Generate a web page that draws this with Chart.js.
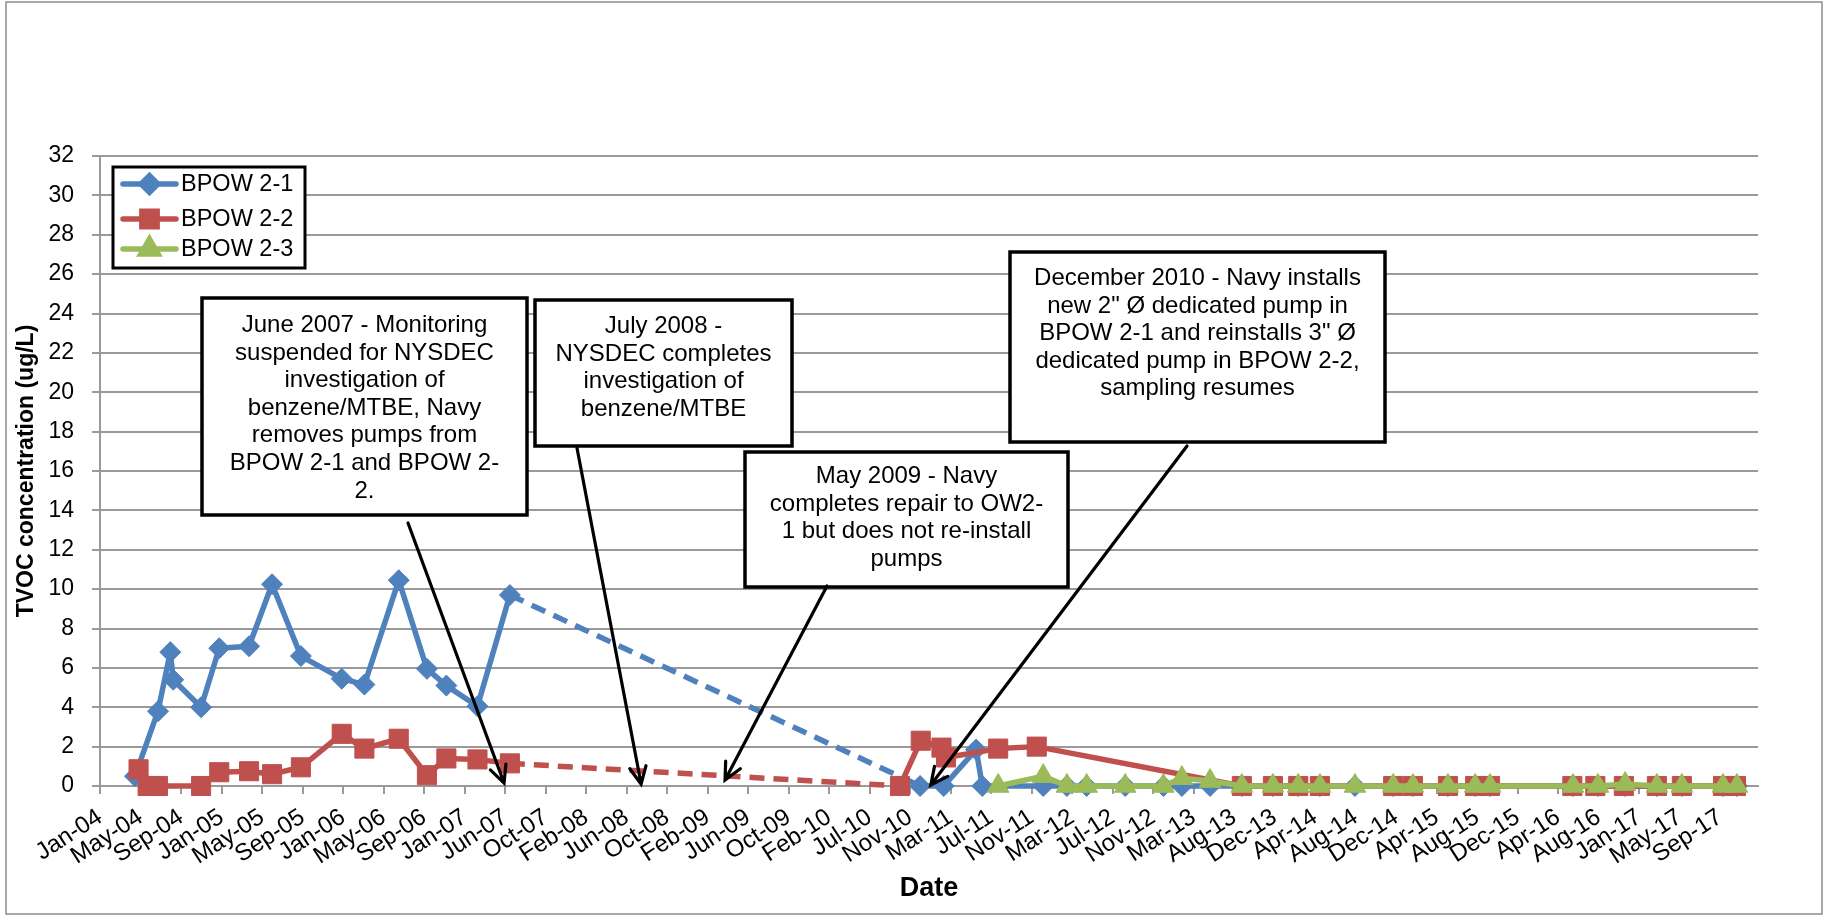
<!DOCTYPE html>
<html>
<head>
<meta charset="utf-8">
<title>BPOW 2-1 / 2-2 / 2-3 TVOC</title>
<script src="https://cdn.jsdelivr.net/npm/chart.js@4.4.1/dist/chart.umd.min.js"></script>
<style>
  html, body { margin: 0; padding: 0; background: #fff; }
  #wrap { width: 1825px; height: 917px; }
</style>
</head>
<body>
<div id="wrap"><canvas id="tvocChart" width="1825" height="917"></canvas></div>
<script>
// x axis labels, one every 125 days from Jan 1 2004 (Excel date axis)
const tickLabels = ['Jan-04', 'May-04', 'Sep-04', 'Jan-05', 'May-05', 'Sep-05', 'Jan-06', 'May-06', 'Sep-06',
    'Jan-07', 'Jun-07', 'Oct-07', 'Feb-08', 'Jun-08', 'Oct-08', 'Feb-09', 'Jun-09', 'Oct-09', 'Feb-10',
    'Jul-10', 'Nov-10', 'Mar-11', 'Jul-11', 'Nov-11', 'Mar-12', 'Jul-12', 'Nov-12', 'Mar-13', 'Aug-13',
    'Dec-13', 'Apr-14', 'Aug-14', 'Dec-14', 'Apr-15', 'Aug-15', 'Dec-15', 'Apr-16', 'Aug-16', 'Jan-17',
    'May-17', 'Sep-17'];
const TICK_STEP = 125;

const bpow21Dates = ['2004-04-18', '2004-06-28', '2004-08-05', '2004-08-14', '2004-11-08', '2005-01-03',
    '2005-04-05', '2005-06-15', '2005-09-12', '2006-01-16', '2006-03-27', '2006-07-11', '2006-10-06',
    '2006-12-05', '2007-03-11', '2007-06-19', '2010-12-06', '2011-02-17', '2011-05-28', '2011-06-16',
    '2011-12-21', '2012-03-03', '2012-05-03', '2012-08-30', '2012-12-26', '2013-02-21', '2013-05-19',
    '2013-08-25', '2013-11-29', '2014-02-15', '2014-04-23', '2014-08-09', '2014-12-05', '2015-02-04',
    '2015-05-23', '2015-08-15', '2015-09-30', '2016-06-12', '2016-08-28', '2016-11-20', '2017-02-26',
    '2017-05-14', '2017-09-18', '2017-10-31'];
const bpow21Values = [0.5, 3.8, 6.8, 5.4, 4.0, 7.0, 7.1, 10.25, 6.6, 5.45, 5.15, 10.45, 5.95, 5.1, 4.05, 9.7,
    0, 0, 1.85, 0, 0, 0, 0, 0, 0, 0, 0, 0, 0, 0, 0, 0, 0, 0, 0, 0, 0, 0, 0, 0, 0, 0, 0, 0];

const bpow22Dates = ['2004-04-29', '2004-05-27', '2004-06-28', '2004-11-08', '2005-01-03', '2005-04-05',
    '2005-06-15', '2005-09-12', '2006-01-16', '2006-03-27', '2006-07-11', '2006-10-06', '2006-12-05',
    '2007-03-11', '2007-06-19', '2010-10-05', '2010-12-08', '2011-02-10', '2011-02-24', '2011-08-04',
    '2011-12-01', '2013-08-25', '2013-11-29', '2014-02-15', '2014-04-23', '2014-12-05', '2015-02-04',
    '2015-05-23', '2015-08-15', '2015-09-30', '2016-06-10', '2016-08-20', '2016-11-16', '2017-02-26',
    '2017-05-14', '2017-09-18', '2017-10-28'];
const bpow22Values = [0.85, 0, 0, 0, 0.7, 0.75, 0.6, 0.95, 2.65, 1.9, 2.4, 0.55, 1.4, 1.35, 1.15,
    0, 2.3, 1.95, 1.45, 1.9, 2.0, 0, 0, 0, 0, 0, 0, 0, 0, 0, 0, 0, 0, 0, 0, 0, 0];

const bpow23Dates = ['2011-08-04', '2011-12-21', '2012-03-03', '2012-05-03', '2012-08-30', '2012-12-26',
    '2013-02-21', '2013-05-19', '2013-08-25', '2013-11-29', '2014-02-15', '2014-04-23', '2014-08-09',
    '2014-12-05', '2015-02-04', '2015-05-23', '2015-08-15', '2015-09-30', '2016-06-12', '2016-08-28',
    '2016-11-20', '2017-02-26', '2017-05-14', '2017-09-18', '2017-10-31'];
const bpow23Values = [0, 0.5, 0, 0, 0, 0, 0.4, 0.25, 0, 0, 0, 0, 0, 0, 0, 0, 0, 0, 0, 0, 0.1, 0, 0, 0, 0];

const seriesNames = ['BPOW 2-1', 'BPOW 2-2', 'BPOW 2-3'];

const BLUE = '#4F81BD', RED = '#C0504D', GREEN = '#9BBB59', GRID = '#9a9a9a';
const FONT = '"Liberation Sans", Arial, sans-serif';

const DAY0 = Date.UTC(2004, 0, 1);
function dayOf(s) {
    const p = s.split('-').map(Number);
    return (Date.UTC(p[0], p[1] - 1, p[2]) - DAY0) / 86400000;
}
function points(dates, values) {
    return dates.map((d, i) => ({ x: dayOf(d), y: values[i] }));
}

// long gaps in sampling are shown dashed
const gapDash = ctx => (ctx.p1.parsed.x - ctx.p0.parsed.x > 1000 ? [15, 9] : undefined);

function series(label, data, color, style, radius, order) {
    return {
        label: label,
        data: data,
        borderColor: color,
        backgroundColor: color,
        borderWidth: 5.5,
        borderJoinStyle: 'round',
        pointStyle: style,
        pointRadius: radius,
        pointBackgroundColor: color,
        pointBorderColor: color,
        pointBorderWidth: 1,
        tension: 0,
        clip: false,
        order: order,
        segment: { borderDash: gapDash }
    };
}

// callout boxes (pixel boxes), arrows end on a date / value
const notes = [
    { box: [202, 298, 527, 515], base: 332, tail: [408, 523], tipDate: '2007-06-01', tipValue: 0.15,
      lines: ['June 2007 - Monitoring', 'suspended for NYSDEC', 'investigation of', 'benzene/MTBE, Navy',
              'removes pumps from', 'BPOW 2-1 and BPOW 2-', '2.'] },
    { box: [535, 300, 792, 446], base: 333, tail: [577, 448], tipDate: '2008-07-28', tipValue: 0.1,
      lines: ['July 2008 -', 'NYSDEC completes', 'investigation of', 'benzene/MTBE'] },
    { box: [745, 452, 1068, 587], base: 483, tail: [827, 586], tipDate: '2009-04-13', tipValue: 0.3,
      lines: ['May 2009 - Navy', 'completes repair to OW2-', '1 but does not re-install', 'pumps'] },
    { box: [1010, 252, 1385, 442], base: 285, tail: [1187, 446], tipDate: '2011-01-08', tipValue: 0.05,
      lines: ['December 2010 - Navy installs', 'new 2" \u00D8 dedicated pump in', 'BPOW 2-1 and reinstalls 3" \u00D8',
              'dedicated pump in BPOW 2-2,', 'sampling resumes'] }
];

const frame = {
    id: 'frame',
    beforeDraw(chart) {
        const c = chart.ctx;
        c.save();
        c.fillStyle = '#fff';
        c.fillRect(0, 0, chart.width, chart.height);
        c.strokeStyle = '#8c8c8c';
        c.lineWidth = 1.5;
        c.strokeRect(6, 2, 1816, 912);
        c.restore();
    }
};

const callouts = {
    id: 'callouts',
    afterDatasetsDraw(chart) {
        const c = chart.ctx, xs = chart.scales.x, ys = chart.scales.y;
        c.save();
        notes.forEach(n => {
            const [l, t, r, b] = n.box;
            c.fillStyle = '#fff';
            c.fillRect(l, t, r - l, b - t);
            c.strokeStyle = '#000';
            c.lineWidth = 3.5;
            c.strokeRect(l, t, r - l, b - t);
            c.fillStyle = '#000';
            c.font = '24px ' + FONT;
            c.textAlign = 'center';
            c.textBaseline = 'alphabetic';
            n.lines.forEach((s, i) => c.fillText(s, (l + r) / 2, n.base + i * 27.6));

            const tx = xs.getPixelForValue(dayOf(n.tipDate));
            const ty = ys.getPixelForValue(n.tipValue);
            const [fx, fy] = n.tail;
            const a = Math.atan2(ty - fy, tx - fx);
            c.lineWidth = 3.2;
            c.lineCap = 'round';
            c.beginPath();
            c.moveTo(fx, fy);
            c.lineTo(tx, ty);
            c.moveTo(tx - 19 * Math.cos(a - 0.45), ty - 19 * Math.sin(a - 0.45));
            c.lineTo(tx, ty);
            c.lineTo(tx - 19 * Math.cos(a + 0.45), ty - 19 * Math.sin(a + 0.45));
            c.stroke();
        });
        c.restore();
    }
};

const boxLegend = {
    id: 'boxLegend',
    afterDraw(chart) {
        const c = chart.ctx;
        const rows = [184, 219, 249];
        c.save();
        c.fillStyle = '#fff';
        c.fillRect(113, 167, 192, 101);
        c.strokeStyle = '#000';
        c.lineWidth = 3;
        c.strokeRect(113, 167, 192, 101);
        chart.data.datasets.forEach((ds, i) => {
            const y = rows[i];
            c.strokeStyle = ds.borderColor;
            c.lineWidth = 5.5;
            c.lineCap = 'round';
            c.beginPath();
            c.moveTo(123, y);
            c.lineTo(176, y);
            c.stroke();
            c.fillStyle = ds.borderColor;
            Chart.helpers.drawPoint(c, {
                pointStyle: ds.pointStyle, radius: ds.pointRadius * 0.8, rotation: 0, borderWidth: 1
            }, 149.5, y);
            c.fillStyle = '#000';
            c.font = '23.5px ' + FONT;
            c.textAlign = 'left';
            c.textBaseline = 'middle';
            c.fillText(ds.label, 181, y + 1);
        });
        c.restore();
    }
};

Chart.defaults.font.family = FONT;
Chart.defaults.color = '#000';

const ctx = document.getElementById('tvocChart').getContext('2d');

const config = {
    type: 'line',
    data: {
        datasets: [
            series(seriesNames[0], points(bpow21Dates, bpow21Values), BLUE, 'rectRot', 10.5, 3),
            series(seriesNames[1], points(bpow22Dates, bpow22Values), RED, 'rect', 13.5, 2),
            series(seriesNames[2], points(bpow23Dates, bpow23Values), GREEN, 'triangle', 12.5, 1)
        ]
    },
    options: {
        responsive: false,
        animation: false,
        events: [],
        layout: { padding: { left: 0, top: 156, right: 67, bottom: 0 } },
        plugins: {
            legend: { display: false },
            title: { display: false },
            tooltip: { enabled: false }
        },
        scales: {
            x: {
                type: 'linear',
                min: 0,
                max: dayOf('2018-01-04'),
                afterBuildTicks: s => { s.ticks = tickLabels.map((_, i) => ({ value: i * TICK_STEP })); },
                afterFit: s => { s.height = 131; },
                grid: { drawOnChartArea: false, color: GRID, lineWidth: 2, tickLength: 8 },
                border: { color: GRID, width: 2 },
                ticks: {
                    autoSkip: false,
                    minRotation: 33,
                    maxRotation: 33,
                    padding: 9,
                    font: { size: 24 },
                    callback: (v, i) => tickLabels[i]
                },
                title: {
                    display: true,
                    text: 'Date',
                    font: { size: 27, weight: 'bold' },
                    padding: { top: 0, bottom: 12 }
                }
            },
            y: {
                min: 0,
                max: 32,
                afterFit: s => { s.width = 100; },
                grid: { color: GRID, lineWidth: 2, tickLength: 8 },
                border: { color: GRID, width: 2 },
                ticks: { stepSize: 2, padding: 18, font: { size: 23 } },
                title: {
                    display: true,
                    text: 'TVOC concentration (ug/L)',
                    font: { size: 23, weight: 'bold' },
                    padding: { top: 13, bottom: 0 }
                }
            }
        }
    },
    plugins: [frame, callouts, boxLegend]
};

const tvocChart = new Chart(ctx, config);
</script>
</body>
</html>
